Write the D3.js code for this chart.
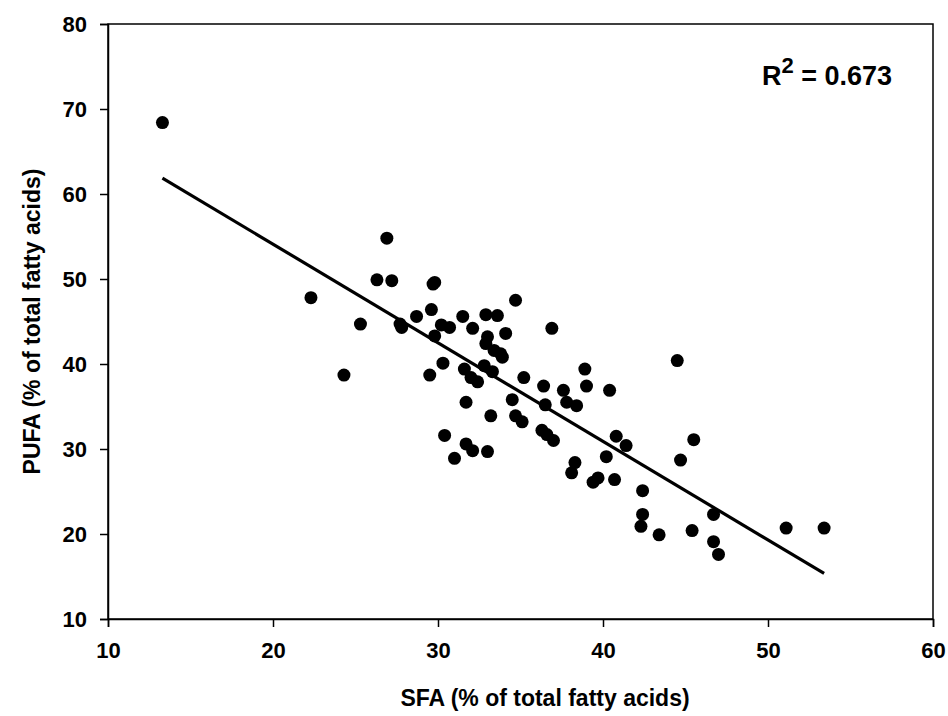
<!DOCTYPE html>
<meta charset="utf-8">
<style>
  body { margin: 0; background: #fff; }
  svg text { font-family: Arial, "Liberation Sans", sans-serif; font-weight: bold; fill: #000; }
</style>
<script src="https://cdn.jsdelivr.net/npm/d3@7"></script>
<body>
<div id="chart"></div>
<script>
  // SFA (% of total fatty acids) for each sample
  let sfa = [13.3, 22.3, 24.3, 25.3, 26.3, 26.9, 27.2, 27.7, 27.8, 28.7,
    29.5, 29.6, 29.8, 29.7, 29.8, 30.2, 30.3, 30.4, 30.7, 31.0,
    31.5, 31.6, 31.7, 31.7, 32.0, 32.1, 32.1, 32.4, 32.8, 32.9,
    32.9, 33.0, 33.0, 33.2, 33.3, 33.4, 33.6, 33.8, 33.9, 34.1,
    34.5, 34.7, 34.7, 35.1, 35.2, 36.3, 36.4, 36.5, 36.6, 36.9,
    37.0, 37.6, 37.8, 38.1, 38.3, 38.4, 38.9, 39.0, 39.4, 39.7,
    40.2, 40.4, 40.7, 40.8, 41.4, 42.3, 42.4, 42.4, 43.4, 44.5,
    44.7, 45.4, 45.5, 46.7, 46.7, 47.0, 51.1, 53.4];
  // PUFA (% of total fatty acids), same order
  let pufa = [68.4, 47.8, 38.7, 44.7, 49.9, 54.8, 49.8, 44.7, 44.3, 45.6,
    38.7, 46.4, 49.6, 49.4, 43.3, 44.6, 40.1, 31.6, 44.3, 28.9,
    45.6, 39.4, 35.5, 30.6, 38.4, 44.2, 29.8, 37.9, 39.8, 45.8,
    42.4, 43.2, 29.7, 33.9, 39.1, 41.6, 45.7, 41.2, 40.8, 43.6,
    35.8, 47.5, 33.9, 33.2, 38.4, 32.2, 37.4, 35.2, 31.7, 44.2,
    31.0, 36.9, 35.5, 27.2, 28.4, 35.1, 39.4, 37.4, 26.1, 26.6,
    29.1, 36.9, 26.4, 31.5, 30.4, 20.9, 22.3, 25.1, 19.9, 40.4,
    28.7, 20.4, 31.1, 22.3, 19.1, 17.6, 20.7, 20.7];

  // 回归线
  let fitRange = [13.3, 53.4];
  let fitSlope = -1.16;
  let fitIntercept = 77.3;
  let r2Text = "0.673";

  let xTicks = [10, 20, 30, 40, 50, 60];
  let yTicks = [10, 20, 30, 40, 50, 60, 70, 80];

  let width = 948, height = 716;
  let margin = {top: 24, right: 15, bottom: 97, left: 108};

  let svg = d3.select("#chart")
    .append("svg")
    .attr("width", width)
    .attr("height", height);

  let x = d3.scaleLinear().domain([10, 60]).range([margin.left, width - margin.right]);
  let y = d3.scaleLinear().domain([10, 80]).range([height - margin.bottom, margin.top]);

  // 框
  svg.append("rect")
    .attr("x", x(10)).attr("y", y(80))
    .attr("width", x(60) - x(10)).attr("height", y(10) - y(80))
    .attr("fill", "none").attr("stroke", "#000").attr("stroke-width", 1.5);

  // 坐标轴
  let xAxis = svg.append("g")
    .attr("transform", `translate(0,${y(10)})`)
    .call(d3.axisBottom(x).tickValues(xTicks).tickSize(8).tickPadding(15));
  let yAxis = svg.append("g")
    .attr("transform", `translate(${x(10)},0)`)
    .call(d3.axisLeft(y).tickValues(yTicks).tickSize(8).tickPadding(13));

  [xAxis, yAxis].forEach(function (a) {
    a.select(".domain").attr("stroke", "#000").attr("stroke-width", 1.5);
    a.selectAll(".tick line").attr("stroke", "#000").attr("stroke-width", 1.5);
    a.selectAll(".tick text").attr("fill", "#000")
      .style("font-size", "22px").style("font-family", "Arial, 'Liberation Sans', sans-serif")
      .style("font-weight", "bold");
  });

  // 散点
  let data = sfa.map((d, i) => ({x: d, y: pufa[i]}));
  svg.append("g")
    .selectAll("circle")
    .data(data)
    .join("circle")
    .attr("cx", d => x(d.x))
    .attr("cy", d => y(d.y))
    .attr("r", 6.5)
    .attr("fill", "#000");

  // 拟合直线
  svg.append("line")
    .attr("x1", x(fitRange[0])).attr("y1", y(fitIntercept + fitSlope * fitRange[0]))
    .attr("x2", x(fitRange[1])).attr("y2", y(fitIntercept + fitSlope * fitRange[1]))
    .attr("stroke", "#000").attr("stroke-width", 3.2);

  // R^2
  let rt = svg.append("text")
    .attr("x", 762).attr("y", 85)
    .style("font-size", "27px");
  rt.append("tspan").text("R");
  rt.append("tspan").attr("dy", -12).style("font-size", "22px").text("2");
  rt.append("tspan").attr("dy", 12).text(" = " + r2Text);

  // 轴标题
  svg.append("text")
    .attr("x", 545).attr("y", 706)
    .attr("text-anchor", "middle")
    .style("font-size", "23px")
    .text("SFA (% of total fatty acids)");

  svg.append("text")
    .attr("transform", `translate(40,${(y(10) + y(80)) / 2}) rotate(-90)`)
    .attr("text-anchor", "middle")
    .style("font-size", "23px")
    .text("PUFA (% of total fatty acids)");
</script>
</body>
